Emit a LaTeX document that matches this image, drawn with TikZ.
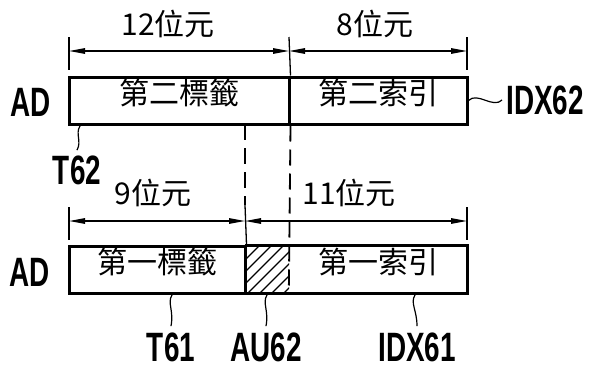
\documentclass[tikz,border=0pt]{standalone}
\usepackage{fontspec}
\newfontfamily\cjk{Noto Sans CJK TC}
\newfontfamily\lab[FakeStretch=0.68]{Liberation Sans}
\usetikzlibrary{arrows.meta}
\tikzset{
  box/.style={draw, line width=3pt, minimum height=47pt, inner sep=0pt, font=\cjk\fontsize{30}{30}\selectfont, text height=0.8em, text depth=0.08em},
  cell/.style={minimum height=47pt, inner sep=0pt, font=\cjk\fontsize{30}{30}\selectfont, text height=0.8em, text depth=0.08em},
  frame/.style={line width=3pt, line join=miter},
  dimlbl/.style={inner sep=0pt, font=\cjk\fontsize{30}{30}\selectfont, text height=0.8em, text depth=0.08em},
  lab/.style={inner sep=0pt, font=\lab\bfseries\fontsize{41}{41}\selectfont, text height=29.4pt, text depth=0pt},
  dim/.style={line width=1.3pt, {Triangle[length=16pt,width=5.5pt]}-{Triangle[length=16pt,width=5.5pt]}},
  ext/.style={line width=1.3pt},
  dl/.style={line width=1.8pt, dash pattern=on 16pt off 8pt},
  lead/.style={line width=1.2pt},
  hatch/.style={line width=1.2pt}
}
\begin{document}
\begin{tikzpicture}[x=1pt,y=-1pt]
\useasboundingbox (0,0) rectangle (589,370);
% top row
\node[box, minimum width=220pt] (tag2) at (179,100.5) {第二標籤};
\node[box, minimum width=178pt] (idx2) at (378,100.5) {第二索引};
% bottom row
\node[box, minimum width=176pt] (tag1) at (157,269.5) {第一標籤};
\node[cell, minimum width=44pt] (au) at (267,269.5) {};
\node[cell, minimum width=178pt] (idx1) at (378,269.5) {第一索引};
\begin{scope}
  \clip (au.south west) rectangle (au.north east);
  \foreach \i in {-5,...,4} \draw[hatch] (245+\i*12,296) -- ++(60,-60);
\end{scope}
\draw[frame] (au.north west) -- (idx1.north east) -- (idx1.south east) -- (au.south west);
% dashed guides
\coordinate (g1a) at (245,124);
\coordinate (g1b) at (245,205);
\draw[dl] (g1a) -- (g1b);
\draw[ext] (g1b) -- (tag1.north east);
\draw[dl] (tag2.south east) -- (idx1.south west);
% top dimensions
\coordinate (e0a) at (69,37); \coordinate (e0b) at (69,70);
\coordinate (e1a) at (289,37);
\coordinate (e2a) at (467,37); \coordinate (e2b) at (467,70);
\draw[ext] (e0a) -- (e0b);
\draw[ext] (e1a) -- (tag2.north east);
\draw[ext] (e2a) -- (e2b);
\coordinate (a0) at (69,51); \coordinate (a1) at (289,51); \coordinate (a2) at (467,51);
\draw[dim] (a0) -- (a1);
\draw[dim] (a1) -- (a2);
\node[dimlbl] (l12) at (168,32) {12位元};
\node[dimlbl] (l8) at (375,32) {8位元};
% bottom dimensions
\coordinate (f0a) at (69,207); \coordinate (f0b) at (69,240);
\coordinate (f2a) at (467,207); \coordinate (f2b) at (467,240);
\draw[ext] (f0a) -- (f0b);
\draw[ext] (f2a) -- (f2b);
\coordinate (b0) at (69,221); \coordinate (b1) at (245,221); \coordinate (b2) at (467,221);
\draw[dim] (b0) -- (b1);
\draw[dim] (b1) -- (b2);
\node[dimlbl] (l9) at (153,201) {9位元};
\node[dimlbl] (l11) at (349,201) {11位元};
% labels
\node[lab] (AD2) at (31,102) {AD};
\node[lab] (AD1) at (30,272) {AD};
\node[lab] (T62) at (77,170) {T62};
\node[lab] (IDX62) at (545,100) {IDX62};
\node[lab] (T61) at (171,347) {T61};
\node[lab] (AU62) at (266,347) {AU62};
\node[lab] (IDX61) at (417,347) {IDX61};
% leaders
\coordinate (t62s) at (80,126);
\draw[lead] (t62s) .. controls (75,134) and (82,141) .. ([yshift=5pt]T62.north);
\draw[lead] (idx2.east) .. controls +(9,-9) and +(-9,9) .. ([xshift=-4pt]IDX62.west);
\coordinate (t61s) at (172,295);
\draw[lead] (t61s) .. controls (167,303) and (174,310) .. ([yshift=6pt]T61.north);
\coordinate (au62s) at (267,295);
\draw[lead] (au62s) .. controls (262,303) and (269,310) .. ([yshift=6pt]AU62.north);
\coordinate (idx61s) at (415,295);
\draw[lead] (idx61s) .. controls (410,303) and (417,310) .. ([yshift=6pt]IDX61.north);
\end{tikzpicture}
\end{document}
